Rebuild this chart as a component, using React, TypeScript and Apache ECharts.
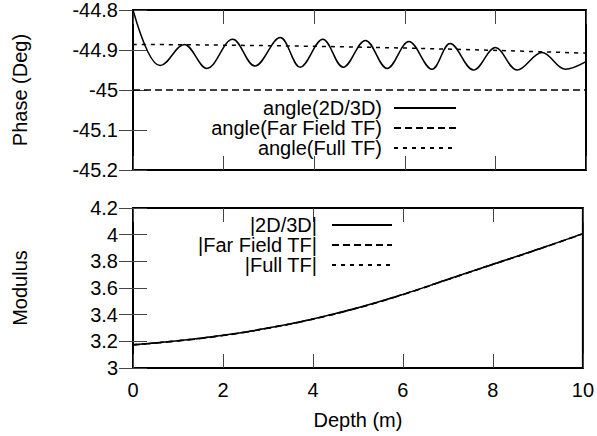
import React, { useEffect, useRef } from "react";
import * as echarts from "echarts";

// ---- Data ----
const phaseDepth2D = [0, 0.33, 0.6, 1.13, 1.63, 2.2, 2.69, 3.25, 3.69, 4.19, 4.64, 5.13, 5.61, 6.09, 6.6, 7.0, 7.52, 8.0, 8.48, 9.03, 9.54, 10];
const phase2D = [-44.8, -44.905, -44.939, -44.886, -44.946, -44.873, -44.94, -44.869, -44.943, -44.873, -44.943, -44.876, -44.946, -44.879, -44.948, -44.884, -44.95, -44.894, -44.95, -44.906, -44.948, -44.929];
const phaseDepthFar = [0, 10];
const phaseFar = [-45, -45];
const phaseDepthFull = [0, 5.1, 10];
const phaseFull = [-44.886, -44.893, -44.908];

const modDepth = [0, 1, 2, 3, 4, 5, 6, 7, 8, 9, 10];
const mod2D = [3.175, 3.205, 3.245, 3.3, 3.368, 3.452, 3.552, 3.665, 3.778, 3.89, 4.008];
const modFar = [3.173, 3.203, 3.243, 3.298, 3.366, 3.45, 3.55, 3.663, 3.776, 3.888, 4.006];
const modFull = [3.175, 3.205, 3.245, 3.3, 3.368, 3.452, 3.552, 3.665, 3.778, 3.89, 4.008];

const phaseNames = ["angle(2D/3D)", "angle(Far Field TF)", "angle(Full TF)"];
const modNames = ["|2D/3D|", "|Far Field TF|", "|Full TF|"];

const depthRange = { min: 0, max: 10, interval: 2 };
const phaseRange = { min: -45.2, max: -44.8, interval: 0.1 };
const modRange = { min: 3, max: 4.2, interval: 0.2 };

const FONT = "'Liberation Sans', Arial, Helvetica, sans-serif";

const zip = (xs: number[], ys: number[]) => xs.map((x, i) => [x, ys[i]]);

const fmt = (v: number) => String(parseFloat(v.toFixed(2)));

export default function App() {
  const ref = useRef<HTMLDivElement>(null);

  useEffect(() => {
    if (!ref.current) return;
    const chart = echarts.init(ref.current, undefined, { renderer: "svg" });

    const tick = { show: true, inside: true, length: 14, lineStyle: { color: "#444", width: 1 } };
    const noLine = { show: false };
    const label = { color: "#000", fontSize: 20, fontFamily: FONT };

    const xAxisBase = (gridIndex: number, position: string, showLabel: boolean, name?: string) => ({
      type: "value",
      gridIndex,
      position,
      ...depthRange,
      axisLine: noLine,
      axisTick: tick,
      splitLine: { show: false },
      axisLabel: { ...label, show: showLabel, margin: 12, formatter: fmt, showMinLabel: true, showMaxLabel: true },
      name: name || "",
      nameLocation: "middle",
      nameGap: 42,
      nameTextStyle: { ...label },
    });

    const yAxisBase = (gridIndex: number, position: string, range: any, showLabel: boolean, name?: string) => ({
      type: "value",
      gridIndex,
      position,
      ...range,
      axisLine: noLine,
      axisTick: tick,
      splitLine: { show: false },
      axisLabel: { ...label, show: showLabel, margin: 15, formatter: fmt, showMinLabel: true, showMaxLabel: true },
      name: name || "",
      nameLocation: "middle",
      nameRotate: 90,
      nameGap: 103,
      nameTextStyle: { ...label },
    });

    const lineSolid = { color: "#000", width: 1.5, type: "solid" };
    const lineDashed = { color: "#000", width: 1.5, type: [7, 4] };
    const lineDotted = { color: "#000", width: 1.5, type: [4, 5] };

    const series = (name: string, data: number[][], lineStyle: any, xi: number, yi: number, smooth: number | boolean) => ({
      type: "line",
      name,
      data,
      xAxisIndex: xi,
      yAxisIndex: yi,
      symbol: "none",
      showSymbol: false,
      smooth,
      lineStyle,
      itemStyle: { color: "#000" },
      silent: true,
    });

    const legend = (name: string, top: number, right: number, width: number, pad: number) => ({
      data: [name],
      orient: "vertical",
      align: "right",
      top,
      right,
      padding: 0,
      itemWidth: width,
      itemHeight: 14,
      selectedMode: false,
      itemStyle: { opacity: 0, borderWidth: 0 },
      textStyle: { color: "#000", fontSize: 20, fontFamily: FONT, lineHeight: 20, padding: [0, pad, 0, 0] },
    });

    chart.setOption({
      animation: false,
      backgroundColor: "#fff",
      textStyle: { fontFamily: FONT },
      grid: [
        { left: 133, top: 10, width: 453, height: 160, show: true, borderColor: "#000", borderWidth: 2, backgroundColor: "transparent" },
        { left: 133, top: 208, width: 453, height: 160, show: true, borderColor: "#000", borderWidth: 2, backgroundColor: "transparent" },
      ],
      xAxis: [
        xAxisBase(0, "bottom", false),
        xAxisBase(0, "top", false),
        xAxisBase(1, "bottom", true, "Depth (m)"),
        xAxisBase(1, "top", false),
      ],
      yAxis: [
        yAxisBase(0, "left", phaseRange, true, "Phase (Deg)"),
        yAxisBase(0, "right", phaseRange, false),
        yAxisBase(1, "left", modRange, true, "Modulus"),
        yAxisBase(1, "right", modRange, false),
      ],
      legend: [
        legend(phaseNames[0], 98, 140, 62, 7),
        legend(phaseNames[1], 118, 140, 62, 7),
        legend(phaseNames[2], 138, 140, 62, 7),
        legend(modNames[0], 215, 204, 60, 10),
        legend(modNames[1], 235, 204, 60, 10),
        legend(modNames[2], 255, 204, 60, 10),
      ],
      series: [
        series(phaseNames[0], zip(phaseDepth2D, phase2D), lineSolid, 0, 0, 0.37),
        series(phaseNames[1], zip(phaseDepthFar, phaseFar), lineDashed, 0, 0, false),
        series(phaseNames[2], zip(phaseDepthFull, phaseFull), lineDotted, 0, 0, true),
        series(modNames[0], zip(modDepth, mod2D), lineSolid, 2, 2, true),
        series(modNames[1], zip(modDepth, modFar), lineDashed, 2, 2, true),
        series(modNames[2], zip(modDepth, modFull), lineDotted, 2, 2, true),
      ],
    });

    return () => chart.dispose();
  }, []);

  return (
    <div
      ref={ref}
      style={{ position: "fixed", left: 0, top: 0, width: 597, height: 436, background: "#fff" }}
    />
  );
}
